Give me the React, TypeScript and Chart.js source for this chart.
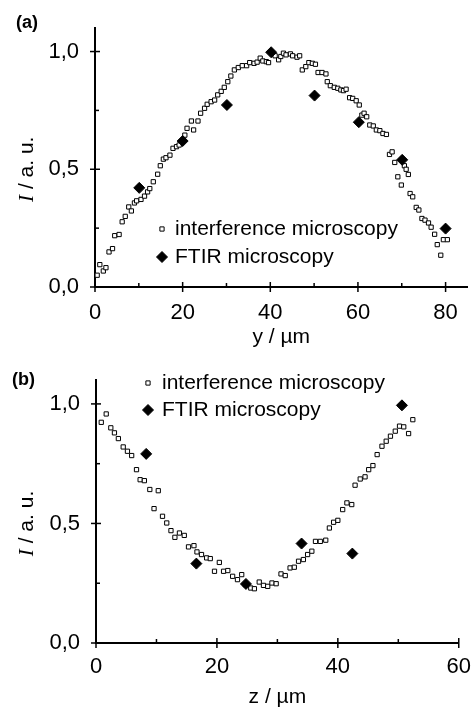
import React, { useEffect, useRef } from 'react';
import { Chart, registerables } from 'chart.js';

Chart.register(...registerables);

const FONT = "'Liberation Sans', Arial, Helvetica, sans-serif";

// ---------- Data ----------
const seriesLabels = ['interference microscopy', 'FTIR microscopy'];

// Panel (a): profile along y
const aInterfX = [0.5, 1.1, 1.9, 2.5, 3.2, 4.0, 4.5, 5.5, 6.2, 6.9, 7.7, 8.3, 9.0, 9.5, 10.5, 11.3, 12.0, 12.5, 13.3, 14.3, 14.9, 15.6, 16.2, 17.1, 17.8, 18.6, 19.2, 20.1, 20.5, 21.0, 22.0, 22.5, 23.5, 24.1, 25.0, 25.6, 26.5, 27.3, 28.0, 28.8, 29.5, 30.3, 31.0, 31.8, 32.7, 33.6, 34.6, 35.3, 36.3, 37.0, 37.7, 38.3, 39.1, 39.6, 41.1, 41.9, 42.4, 43.0, 43.6, 44.6, 45.1, 46.1, 46.7, 47.3, 48.1, 48.8, 49.6, 50.3, 50.9, 51.8, 52.7, 53.0, 53.7, 54.6, 55.4, 56.1, 56.7, 57.3, 58.1, 58.8, 59.6, 60.3, 60.9, 61.4, 62.0, 62.7, 63.5, 64.2, 65.0, 65.7, 66.5, 67.2, 67.8, 68.4, 69.1, 69.9, 70.6, 71.0, 71.5, 71.9, 72.5, 73.3, 73.9, 74.6, 75.3, 76.1, 76.7, 77.5, 78.1, 78.9, 79.5, 80.4];
const aInterfY = [0.05, 0.095, 0.068, 0.082, 0.149, 0.163, 0.218, 0.223, 0.277, 0.30, 0.34, 0.323, 0.357, 0.366, 0.372, 0.386, 0.404, 0.418, 0.447, 0.479, 0.515, 0.543, 0.549, 0.560, 0.589, 0.596, 0.603, 0.624, 0.645, 0.674, 0.705, 0.667, 0.705, 0.738, 0.759, 0.776, 0.787, 0.794, 0.816, 0.831, 0.848, 0.872, 0.896, 0.922, 0.932, 0.940, 0.940, 0.953, 0.950, 0.955, 0.972, 0.960, 0.957, 0.953, 0.982, 0.965, 0.979, 0.993, 0.986, 0.990, 0.982, 0.976, 0.982, 0.922, 0.936, 0.953, 0.950, 0.946, 0.911, 0.911, 0.905, 0.872, 0.855, 0.848, 0.844, 0.837, 0.834, 0.840, 0.804, 0.801, 0.791, 0.773, 0.730, 0.738, 0.723, 0.688, 0.684, 0.667, 0.664, 0.652, 0.648, 0.563, 0.574, 0.529, 0.468, 0.433, 0.515, 0.500, 0.478, 0.397, 0.383, 0.338, 0.327, 0.291, 0.284, 0.272, 0.254, 0.224, 0.180, 0.135, 0.201, 0.201];
const aFtirX = [10.1, 20.0, 30.1, 40.2, 50.1, 60.2, 70.1, 80.0];
const aFtirY = [0.421, 0.620, 0.773, 0.997, 0.813, 0.700, 0.540, 0.248];

// Panel (b): profile along z
const bInterfX = [0.87, 1.69, 2.45, 3.05, 3.7, 4.5, 5.2, 5.9, 6.7, 7.3, 8.0, 8.9, 9.6, 10.3, 11.0, 11.7, 12.4, 13.05, 13.8, 14.6, 15.3, 16.2, 16.7, 17.45, 18.3, 18.9, 19.6, 20.4, 21.1, 21.8, 22.6, 23.4, 24.1, 24.7, 25.6, 26.2, 27.0, 27.7, 28.4, 29.1, 29.8, 30.6, 31.3, 32.1, 32.8, 33.5, 34.3, 35.0, 35.7, 36.3, 37.1, 38.0, 38.6, 39.3, 40.0, 40.8, 41.5, 42.3, 42.85, 43.7, 44.5, 45.1, 45.8, 46.5, 47.3, 48.0, 48.7, 49.5, 50.2, 50.9, 51.7, 52.4];
const bInterfY = [0.923, 0.958, 0.900, 0.879, 0.855, 0.820, 0.802, 0.784, 0.725, 0.683, 0.679, 0.642, 0.562, 0.637, 0.530, 0.502, 0.470, 0.442, 0.460, 0.450, 0.402, 0.407, 0.381, 0.370, 0.356, 0.353, 0.300, 0.337, 0.300, 0.303, 0.279, 0.265, 0.286, 0.244, 0.230, 0.227, 0.255, 0.241, 0.237, 0.251, 0.248, 0.289, 0.282, 0.314, 0.317, 0.342, 0.349, 0.370, 0.384, 0.425, 0.425, 0.430, 0.481, 0.505, 0.513, 0.558, 0.586, 0.579, 0.660, 0.686, 0.695, 0.725, 0.742, 0.788, 0.823, 0.844, 0.865, 0.886, 0.907, 0.904, 0.876, 0.934];
const bFtirX = [8.3, 16.6, 24.8, 34.0, 42.4, 50.6];
const bFtirY = [0.791, 0.332, 0.247, 0.416, 0.374, 0.994];

// Ticks / labels
const yMajorTicks = [0, 0.5, 1.0];
const yMinorTicks = [0.25, 0.75];
const aXMajorTicks = [0, 20, 40, 60, 80];
const aXMinorTicks = [10, 30, 50, 70];
const bXMajorTicks = [0, 20, 40, 60];
const bXMinorTicks = [10, 30, 50];
const yTitleItalic = 'I';
const yTitleRest = ' / a. u.';
const aXTitle = 'y / µm';
const bXTitle = 'z / µm';
const aPanelLabel = '(a)';
const bPanelLabel = '(b)';

const fmtY = (v: number) => Number(v).toFixed(1).replace('.', ',');
const pts = (xs: number[], ys: number[]) => xs.map((x, i) => ({ x, y: ys[i] }));

// ---------- Plugins ----------
const crossTicks = {
  id: 'crossTicks',
  afterDraw(chart: any, _a: any, opts: any) {
    const ctx = chart.ctx;
    const { left, bottom } = chart.chartArea;
    const xs = chart.scales.x;
    const ys = chart.scales.y;
    ctx.save();
    ctx.strokeStyle = '#000';
    ctx.lineWidth = 1.5;
    const vx = (v: number, inL: number, outL: number) => {
      const p = xs.getPixelForValue(v);
      ctx.beginPath();
      ctx.moveTo(p, bottom - inL);
      ctx.lineTo(p, bottom + outL);
      ctx.stroke();
    };
    const hy = (v: number, inL: number, outL: number) => {
      const p = ys.getPixelForValue(v);
      ctx.beginPath();
      ctx.moveTo(left - outL, p);
      ctx.lineTo(left + inL, p);
      ctx.stroke();
    };
    (opts.xMajor || []).forEach((v: number) => vx(v, 5, 5));
    (opts.xMinor || []).forEach((v: number) => vx(v, 4, 0));
    (opts.yMajor || []).forEach((v: number) => hy(v, 5, 5));
    (opts.yMinor || []).forEach((v: number) => hy(v, 4, 0));
    ctx.restore();
  },
};

const yTitle = {
  id: 'yTitle',
  afterDraw(chart: any, _a: any, opts: any) {
    const ctx = chart.ctx;
    const cy = chart.scales.y.getPixelForValue(opts.center);
    ctx.save();
    ctx.translate(opts.x, cy);
    ctx.rotate(-Math.PI / 2);
    ctx.fillStyle = '#000';
    ctx.textBaseline = 'middle';
    ctx.textAlign = 'left';
    const f1 = `italic ${opts.size}px 'Liberation Serif', 'Times New Roman', serif`;
    const f2 = `${opts.size}px ${FONT}`;
    ctx.font = f1;
    const w1 = ctx.measureText(opts.italic).width;
    ctx.font = f2;
    const w2 = ctx.measureText(opts.rest).width;
    const x0 = -(w1 + w2) / 2;
    ctx.font = f1;
    ctx.fillText(opts.italic, x0, 0);
    ctx.font = f2;
    ctx.fillText(opts.rest, x0 + w1, 0);
    ctx.restore();
  },
};

const innerLegend = {
  id: 'innerLegend',
  afterDraw(chart: any, _a: any, opts: any) {
    const ctx = chart.ctx;
    ctx.save();
    chart.data.datasets.forEach((ds: any, i: number) => {
      const y = opts.y + i * opts.gap;
      const x = opts.x;
      ctx.beginPath();
      if (ds.pointStyle === 'rect') {
        const s = ds.pointRadius * Math.SQRT2;
        ctx.rect(x - s / 2, y - s / 2, s, s);
      } else {
        const r = ds.pointRadius;
        ctx.moveTo(x - r, y);
        ctx.lineTo(x, y - r);
        ctx.lineTo(x + r, y);
        ctx.lineTo(x, y + r);
        ctx.closePath();
      }
      ctx.fillStyle = ds.backgroundColor;
      ctx.fill();
      ctx.lineWidth = ds.borderWidth;
      ctx.strokeStyle = ds.borderColor;
      ctx.stroke();
      ctx.fillStyle = '#000';
      ctx.font = `${opts.size}px ${FONT}`;
      ctx.textBaseline = 'middle';
      ctx.textAlign = 'left';
      ctx.fillText(ds.label, opts.textX, y);
    });
    ctx.restore();
  },
};

// ---------- Chart builder ----------
interface PanelSpec {
  interf: { x: number; y: number }[];
  ftir: { x: number; y: number }[];
  xMax: number;
  xMajor: number[];
  xMinor: number[];
  xTitle: string;
  width: number;
  height: number;
  padTop: number;
  padRight: number;
  yAxisW: number;
  xAxisH: number;
  xTickPad: number;
  xTitlePadB: number;
  legend: { x: number; textX: number; y: number; gap: number; size: number };
}

function buildConfig(p: PanelSpec): any {
  return {
    type: 'scatter',
    data: {
      datasets: [
        {
          label: seriesLabels[0],
          data: p.interf,
          pointStyle: 'rect',
          pointRadius: 3,
          borderWidth: 1,
          borderColor: '#000',
          backgroundColor: '#fff',
          order: 1,
        },
        {
          label: seriesLabels[1],
          data: p.ftir,
          pointStyle: 'rectRot',
          pointRadius: 5.5,
          borderWidth: 1,
          borderColor: '#000',
          backgroundColor: '#000',
          order: 0,
        },
      ],
    },
    options: {
      responsive: false,
      animation: false,
      events: [],
      layout: { padding: { top: p.padTop, right: p.padRight, left: 0, bottom: 0 } },
      scales: {
        x: {
          type: 'linear',
          min: 0,
          max: p.xMax,
          afterBuildTicks: (s: any) => {
            s.ticks = p.xMajor.map((v) => ({ value: v }));
          },
          afterFit: (s: any) => {
            s.height = p.xAxisH;
          },
          grid: { display: false },
          border: { display: true, color: '#000', width: 2 },
          ticks: {
            color: '#000',
            font: { size: 22, family: FONT },
            padding: p.xTickPad,
            maxRotation: 0,
            autoSkip: false,
          },
          title: {
            display: true,
            text: p.xTitle,
            color: '#000',
            font: { size: 21, family: FONT },
            padding: { top: 0, bottom: p.xTitlePadB },
          },
        },
        y: {
          type: 'linear',
          min: 0,
          max: 1.1,
          afterBuildTicks: (s: any) => {
            s.ticks = yMajorTicks.map((v) => ({ value: v }));
          },
          afterFit: (s: any) => {
            s.width = p.yAxisW;
          },
          grid: { display: false },
          border: { display: true, color: '#000', width: 2 },
          ticks: {
            color: '#000',
            font: { size: 22, family: FONT },
            padding: 8,
            callback: (v: any) => fmtY(v),
          },
        },
      },
      plugins: {
        legend: { display: false },
        tooltip: { enabled: false },
        crossTicks: { xMajor: p.xMajor, xMinor: p.xMinor, yMajor: yMajorTicks, yMinor: yMinorTicks },
        yTitle: { x: 27, center: 0.5, size: 21, italic: yTitleItalic, rest: yTitleRest },
        innerLegend: p.legend,
      },
    },
    plugins: [crossTicks, yTitle, innerLegend],
  };
}

function Panel({ spec, top, label, labelPos }: { spec: PanelSpec; top: number; label: string; labelPos: { left: number; top: number } }) {
  const ref = useRef<HTMLCanvasElement | null>(null);
  useEffect(() => {
    if (!ref.current) return;
    const chart = new Chart(ref.current, buildConfig(spec));
    return () => chart.destroy();
  }, [spec]);
  return (
    <>
      <canvas
        ref={ref}
        width={spec.width}
        height={spec.height}
        style={{ position: 'absolute', left: 0, top, width: spec.width, height: spec.height }}
      />
      <div
        style={{
          position: 'absolute',
          left: labelPos.left,
          top: labelPos.top,
          fontFamily: FONT,
          fontWeight: 'bold',
          fontSize: 18,
          lineHeight: '18px',
          color: '#000',
        }}
      >
        {label}
      </div>
    </>
  );
}

const specA: PanelSpec = {
  interf: pts(aInterfX, aInterfY),
  ftir: pts(aFtirX, aFtirY),
  xMax: 85,
  xMajor: aXMajorTicks,
  xMinor: aXMinorTicks,
  xTitle: aXTitle,
  width: 474,
  height: 350,
  padTop: 28,
  padRight: 2,
  yAxisW: 95,
  xAxisH: 63,
  xTickPad: 5,
  xTitlePadB: 0,
  legend: { x: 162, textX: 175, y: 229, gap: 28, size: 21 },
};

const specB: PanelSpec = {
  interf: pts(bInterfX, bInterfY),
  ftir: pts(bFtirX, bFtirY),
  xMax: 60,
  xMajor: bXMajorTicks,
  xMinor: bXMinorTicks,
  xTitle: bXTitle,
  width: 474,
  height: 361,
  padTop: 30,
  padRight: 11,
  yAxisW: 96,
  xAxisH: 68,
  xTickPad: 3,
  xTitlePadB: 1,
  legend: { x: 148, textX: 162, y: 33, gap: 27, size: 21 },
};

export default function App() {
  return (
    <div style={{ position: 'absolute', left: 0, top: 0, width: 474, height: 711, background: '#fff', overflow: 'hidden' }}>
      <Panel spec={specA} top={0} label={aPanelLabel} labelPos={{ left: 16, top: 13 }} />
      <Panel spec={specB} top={350} label={bPanelLabel} labelPos={{ left: 12, top: 370 }} />
    </div>
  );
}
